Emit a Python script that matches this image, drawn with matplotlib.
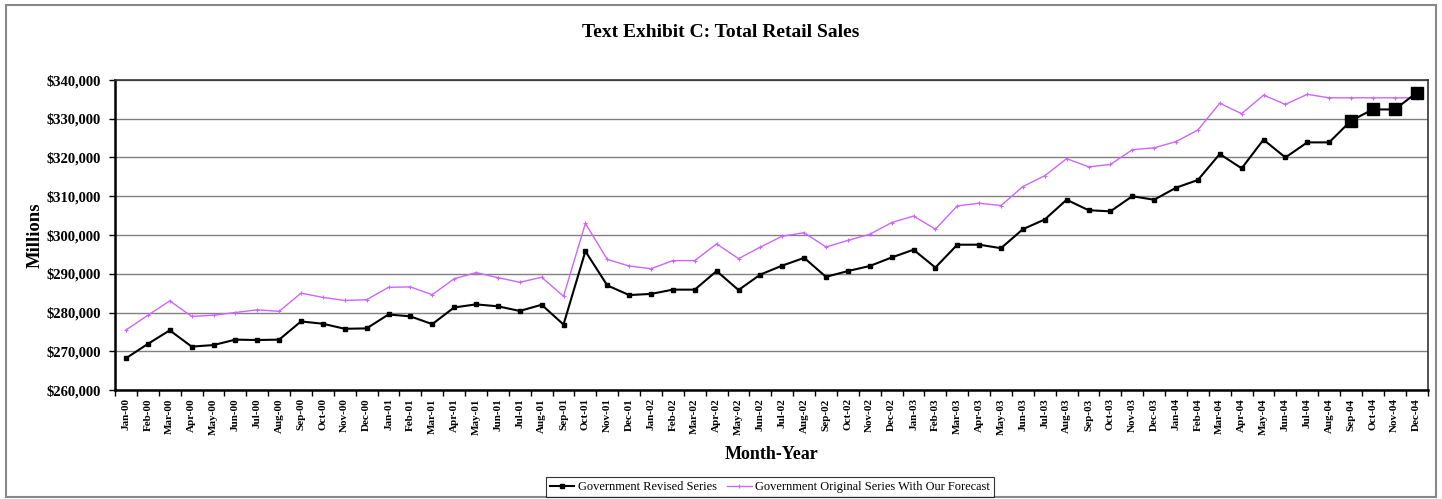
import numpy as np
import matplotlib.pyplot as plt
from matplotlib.patches import Rectangle
from matplotlib.ticker import FuncFormatter, FixedLocator

# month labels Jan-00 .. Dec-04
months = ['Jan', 'Feb', 'Mar', 'Apr', 'May', 'Jun', 'Jul', 'Aug', 'Sep', 'Oct', 'Nov', 'Dec']
years = ['00', '01', '02', '03', '04']
labels = [m + '-' + y for y in years for m in months]

# millions of dollars
revised = [268200, 271900, 275400, 271200, 271600, 273000, 272900, 273000, 277700, 277100, 275800, 275900,
           279500, 279000, 277000, 281300, 282100, 281600, 280400, 282000, 276900, 295800, 287000, 284500,
           284800, 285900, 285900, 290700, 285800, 289800, 292100, 294100, 289200, 290700, 292000, 294200,
           296200, 291600, 297500, 297500, 296600, 301500, 304000, 309100, 306400, 306100, 310000, 309100,
           312200, 314200, 320900, 317200, 324600, 320000, 323900, 323900, 329500, 332400, 332400, 336700]

original = [275500, 279300, 283000, 279000, 279300, 280000, 280700, 280300, 285000, 283900, 283100, 283300,
            286500, 286600, 284600, 288700, 290300, 289000, 287800, 289100, 284200, 303000, 293700, 292000,
            291300, 293400, 293400, 297700, 293900, 296900, 299700, 300600, 296900, 298600, 300200, 303200,
            304900, 301500, 307500, 308200, 307600, 312500, 315300, 319700, 317600, 318200, 322000, 322500,
            324100, 327100, 334000, 331300, 336100, 333700, 336300, 335400, 335400, 335400, 335400, 335400]

n_big = 4  # last months of the revised series drawn with large markers

x = np.arange(len(labels))

plt.rcParams['font.family'] = ['Liberation Serif', 'DejaVu Serif']

fig = plt.figure(figsize=(14.42, 4.99), dpi=100)
fig.patches.append(Rectangle((0.004, 0.004), 0.992, 0.986, transform=fig.transFigure,
                             fill=False, edgecolor='#888888', linewidth=1.5))

ax = fig.add_axes([0.0798, 0.2184, 0.9102, 0.6213])

ax.plot(x, original, color='#CC66FF', linewidth=1.0, marker='+', markersize=3,
        markeredgewidth=0.8, label='Government Original Series With Our Forecast', zorder=3)
ax.plot(x, revised, color='black', linewidth=1.5, marker='s', markersize=3,
        label='Government Revised Series', zorder=4)
ax.plot(x[-n_big:], revised[-n_big:], linestyle='none', marker='s', markersize=8,
        color='black', zorder=5)

ax.set_xlim(-0.5, len(labels) - 0.5)
ax.set_ylim(260000, 340000)
ax.set_yticks(np.arange(260000, 340001, 10000))
ax.yaxis.set_major_formatter(FuncFormatter(lambda v, p: '${:,.0f}'.format(v)))
ax.grid(axis='y', color='#808080', linewidth=1.0)
ax.set_axisbelow(True)

ax.set_xticks(x)
ax.set_xticklabels(labels, rotation=90, fontsize=8, fontweight='bold')
ax.xaxis.set_minor_locator(FixedLocator(np.arange(-0.5, len(labels), 1)))
ax.tick_params(axis='x', which='major', length=0, pad=6)
ax.tick_params(axis='x', which='minor', length=4, width=1)
ax.tick_params(axis='y', length=4, width=1, labelsize=10.5, pad=6)
for t in ax.get_yticklabels():
    t.set_fontweight('bold')

for side in ['left', 'bottom']:
    ax.spines[side].set_linewidth(1.8)
    ax.spines[side].set_color('black')
for side in ['top', 'right']:
    ax.spines[side].set_linewidth(1.2)
    ax.spines[side].set_color('#333333')

ax.set_ylabel('Millions', fontsize=13.5, fontweight='bold', labelpad=2)
ax.set_xlabel('Month-Year', fontsize=13, fontweight='bold', labelpad=8)
fig.text(0.5, 0.935, 'Text Exhibit C: Total Retail Sales', ha='center', va='center',
         fontsize=14, fontweight='bold')

h, l = ax.get_legend_handles_labels()
leg = fig.legend([h[1], h[0]], [l[1], l[0]], loc='center', bbox_to_anchor=(0.534, 0.024),
                 ncol=2, fontsize=8.9, frameon=True, fancybox=False, edgecolor='black',
                 handlelength=2.0, handletextpad=0.3, columnspacing=0.8, borderpad=0.3)
leg.get_frame().set_linewidth(0.8)

fig.savefig('out.png', dpi=100)
